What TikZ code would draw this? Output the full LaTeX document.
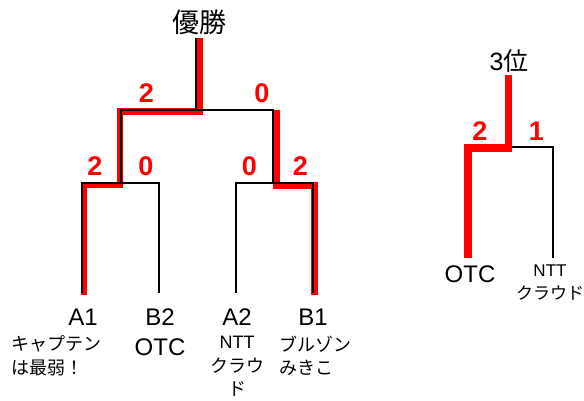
\documentclass[tikz,border=0pt]{standalone}
\usepackage{fontspec}
\setmainfont{Liberation Sans}
\newfontfamily\jp{Noto Sans CJK JP}

\begin{document}
\begin{tikzpicture}[x=1pt,y=-1pt,
        win/.style={draw=red,line width=6.5pt},
        bar/.style={draw=black,line width=2.2pt},
        score/.style={red,inner sep=0pt,font=\fontsize{27}{27}\selectfont\bfseries},
        team/.style={inner sep=0pt,font=\fontsize{24}{24}\selectfont},
        note/.style={inner sep=0pt,font=\fontsize{18}{23.5}\selectfont}]
    \useasboundingbox (0,0) rectangle (584,401);

    % main bracket
    \coordinate (a1) at (82,293);
    \coordinate (b2) at (159,293);
    \coordinate (a2) at (236,293);
    \coordinate (b1) at (313,293);
    \coordinate (s1) at (121,183);
    \coordinate (s2) at (273,183);
    \coordinate (fin) at (196,110);
    \coordinate (top) at (196,38);

    \draw [win] (199.5,38) -- (199.5,111.5) -- (120,111.5) -- (120,185) -- (84,185) -- (84,295);
    \draw [win] (276.5,110) -- (276.5,185.5) -- (314.5,185.5) -- (314.5,295);

    \draw [bar] (a1) |- (s1) -| (b2);
    \draw [bar] (a2) |- (s2) -| (b1);
    \draw [bar] (s1) |- (fin) -| (s2);
    \draw [bar] (fin) -- (top);

    \node (champ) at (199,22) {\jp\fontsize{27}{27}\selectfont 優勝};

    \node [score] (sc1) at (146.5,93) {2};
    \node [score] (sc2) at (262,93)   {0};
    \foreach \x/\s [count=\i] in {95/2,146/0,249.5/0,300.5/2}{%
        \node [score] (sr\i) at (\x,166) {\s};
    }

    \node [team] (la1) at (83,317)  {A1};
    \node [team] (lb2) at (160,317) {B2};
    \node [team] (la2) at (237,317) {A2};
    \node [team] (lb1) at (313,317) {B1};

    \node [note,anchor=west,align=left] (na1) at (11,356) {\jp キャプテン\\\jp は最弱！};
    \node [team] (nb2) at (160,347) {OTC};
    \node [note,align=center] (na2) at (237,366.5) {NTT\\\jp クラウ\\\jp ド};
    \node [note,anchor=west,align=left] (nb1) at (279,356) {\jp ブルゾン\\\jp みきこ};

    % third place
    \coordinate (otc) at (468,258);
    \coordinate (ntt) at (553,258);
    \coordinate (thr) at (508.5,148);

    \draw [win,line width=7.5pt] (508.5,75) -- (thr) -| (otc);
    \draw [bar] (512,147) -| (ntt);

    \node (third) at (509,61) {\fontsize{25}{25}\selectfont 3\jp 位};
    \node [score] (sc3) at (480,131)   {2};
    \node [score] (sc4) at (536.5,131) {1};

    \node [team] (lotc) at (470,274) {OTC};
    \node [note,align=center,font=\fontsize{17}{23}\selectfont] (lntt) at (550,282.5) {NTT\\\jp クラウド};
\end{tikzpicture}
\end{document}
